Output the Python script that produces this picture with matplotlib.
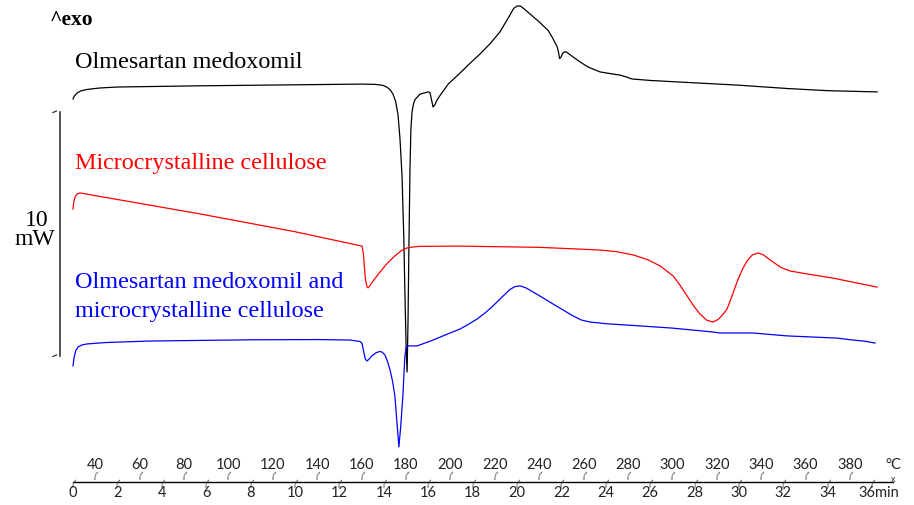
import numpy as np
import matplotlib.pyplot as plt

# DSC thermograms, heat flow (mW) against sample temperature (°C), 10 K/min
olm_T = [30.0, 30.6, 31.8, 33.5, 36.3, 42.0, 49.8, 87.2, 160.0, 166.0, 169.6, 171.5,
         172.8, 174.1, 175.3, 176.4, 177.3, 178.2, 179.0, 179.5, 180.1, 180.5,
         180.9, 181.3, 181.8, 182.2, 182.7, 183.4, 184.1, 186.3, 190.0, 190.8,
         191.5, 192.2, 193.0, 194.0, 195.3, 199.0, 204.3, 208.8, 213.3, 218.0,
         222.3, 226.0, 228.5, 230.0, 231.5, 233.0, 235.9, 240.0, 244.0, 246.0,
         247.1, 248.0, 248.6, 249.2, 249.8, 250.6, 251.6, 252.5, 255.0, 258.4,
         262.0, 267.4, 272.0, 276.4, 279.0, 281.8, 290.0, 302.1, 329.1, 351.6,
         370.0, 392.2]
olm_mW = [16.64, 16.76, 16.88, 16.97, 17.03, 17.09, 17.13, 17.18, 17.25, 17.24, 17.20, 17.12,
          17.02, 16.85, 16.55, 16.00, 15.00, 13.50, 11.00, 8.73, 6.30, 5.45,
          7.50, 10.50, 13.80, 15.40, 16.10, 16.45, 16.62, 16.84, 16.93, 16.90,
          16.60, 16.31, 16.40, 16.60, 16.78, 17.25, 17.70, 18.10, 18.48, 18.92,
          19.39, 19.95, 20.35, 20.45, 20.45, 20.35, 20.12, 19.80, 19.45, 19.15,
          18.95, 18.80, 18.60, 18.30, 18.35, 18.52, 18.58, 18.55, 18.38, 18.16,
          17.95, 17.75, 17.68, 17.62, 17.55, 17.46, 17.40, 17.34, 17.21, 17.07,
          16.98, 16.93]

mcc_T = [30.0, 30.4, 31.0, 31.8, 33.2, 40.0, 87.2, 130.0, 160.2, 160.8, 161.3, 161.8,
         162.4, 162.9, 163.6, 165.5, 168.3, 171.5, 175.0, 178.0, 180.9, 186.0,
         204.3, 240.0, 267.4, 275.0, 282.3, 289.0, 294.4, 298.0, 300.3, 303.5,
         306.6, 309.5, 312.4, 315.5, 318.3, 320.5, 322.5, 324.6, 326.8, 329.1,
         331.5, 333.6, 336.0, 338.6, 341.0, 345.3, 349.0, 353.0, 362.0, 372.3,
         392.2]
mcc_mW = [12.13, 12.45, 12.64, 12.74, 12.79, 12.68, 11.93, 11.20, 10.61, 10.30, 9.70, 9.20,
          8.95, 8.90, 8.97, 9.22, 9.55, 9.90, 10.21, 10.43, 10.55, 10.60,
          10.61, 10.56, 10.45, 10.38, 10.25, 10.05, 9.80, 9.55, 9.39, 9.00,
          8.57, 8.17, 7.83, 7.57, 7.50, 7.60, 7.78, 8.03, 8.55, 9.14,
          9.65, 10.00, 10.25, 10.33, 10.25, 9.96, 9.73, 9.59, 9.45, 9.30,
          8.93]

mix_T = [30.0, 30.5, 31.2, 32.3, 34.0, 36.3, 45.0, 64.7, 109.7, 140.0, 154.8, 159.3,
         160.2, 160.9, 161.6, 162.4, 163.4, 164.6, 166.5, 168.0, 169.2, 170.5,
         171.8, 172.8, 174.0, 175.0, 176.0, 176.8, 177.6, 178.6, 179.1, 179.5,
         180.0, 180.5, 185.0, 188.0, 192.2, 198.0, 204.3, 208.0, 212.0, 216.0,
         219.2, 223.0, 226.8, 229.0, 231.4, 234.0, 237.2, 241.5, 246.2, 251.0,
         255.2, 259.0, 262.9, 270.0, 285.4, 300.0, 318.3, 321.4, 336.3, 351.6,
         374.1, 381.4, 386.0, 391.3]
mix_mW = [5.70, 6.05, 6.32, 6.48, 6.56, 6.60, 6.66, 6.72, 6.77, 6.78, 6.76, 6.70,
          6.62, 6.30, 6.00, 5.90, 5.98, 6.11, 6.24, 6.29, 6.27, 6.15,
          5.85, 5.54, 5.05, 4.47, 3.30, 2.38, 3.20, 4.47, 5.40, 6.11,
          6.42, 6.52, 6.52, 6.62, 6.76, 6.98, 7.21, 7.40, 7.62, 7.90,
          8.16, 8.50, 8.83, 8.95, 8.98, 8.90, 8.73, 8.50, 8.24, 7.98,
          7.75, 7.58, 7.50, 7.43, 7.34, 7.25, 7.09, 7.05, 7.05, 6.93,
          6.84, 6.76, 6.72, 6.64]

temp_labels = list(range(40, 381, 20))
time_labels = list(range(0, 37, 2))

W, H = 914, 506
fig = plt.figure(figsize=(W / 100, H / 100), dpi=100)
ax = fig.add_axes([0, 0, 1, 1])
ax.set_xlim(30 - 73 / 2.22, 30 + (W - 73) / 2.22)
ax.set_ylim(0, H / 24.4)
ax.axis('off')

def fx(px):
    return px / W

def fy(py):
    return 1 - py / H

ax.plot(olm_T, olm_mW, color='black', lw=0.9)
ax.plot(mcc_T, mcc_mW, color='#ff0000', lw=0.9)
ax.plot(mix_T, mix_mW, color='#0000ff', lw=0.9)

serif = ['Liberation Serif', 'DejaVu Serif']
sans = ['Lato', 'DejaVu Sans']

fig.text(fx(50), fy(20), '^exo', family=serif, fontsize=15.5, fontweight='bold',
         va='center', ha='left')
fig.text(fx(75), fy(62), 'Olmesartan medoxomil', family=serif, fontsize=17.4,
         va='center', ha='left', color='black')
fig.text(fx(75), fy(164), 'Microcrystalline cellulose', family=serif, fontsize=17.4,
         va='center', ha='left', color='#ff0000')
fig.text(fx(75), fy(282), 'Olmesartan medoxomil and', family=serif, fontsize=17.4,
         va='center', ha='left', color='#0000ff')
fig.text(fx(75), fy(312), 'microcrystalline cellulose', family=serif, fontsize=17.4,
         va='center', ha='left', color='#0000ff')

# 10 mW scale bar
bar_x = 30 + (60 - 73) / 2.22
bar_top = (H - 113) / 24.4
ax.plot([bar_x, bar_x], [bar_top, bar_top - 10], color='#333333', lw=1.2)
for yb in (bar_top, bar_top - 10):
    ax.plot([bar_x - 3.2, bar_x - 1.6], [yb - 0.02, yb + 0.04], color='#333333', lw=0.9)
fig.text(fx(49), fy(221), '10', family=serif, fontsize=17, va='center', ha='right')
fig.text(fx(55), fy(240), 'mW', family=serif, fontsize=17, va='center', ha='right')

# combined temperature / time axis
y_axis = (H - 483) / 24.4
ax.plot([30, 30 + 10 * 36.95], [y_axis, y_axis], color='black', lw=1.0)
for t in range(0, 37):
    x = 30 + 10 * t
    if t % 2:
        ax.text(x, y_axis + 0.12, '(', family=sans, fontsize=6.5, color='#333333',
                ha='center', va='bottom', rotation=-20)
    else:
        ax.text(x, y_axis - 0.2, '(', family=sans, fontsize=6.5, color='#333333',
                ha='center', va='bottom', rotation=-20)
for T in temp_labels:
    ax.text(T, (H - 465) / 24.4, str(T), family=sans, fontsize=10.5,
            ha='center', va='center', color='#222222')
for t in time_labels:
    lab = '36min' if t == 36 else str(t)
    x = 30 + 10 * t
    ha = 'center'
    if t == 36:
        x -= 6
        ha = 'left'
    ax.text(x, (H - 493) / 24.4, lab, family=sans, fontsize=10.5,
            ha=ha, va='center', color='#222222')
fig.text(fx(893), fy(465), '°C', family=sans, fontsize=10.5, ha='center', va='center',
         color='#222222')
fig.text(fx(893), fy(480), 'x', family=sans, fontsize=6.5, ha='center', va='center',
         color='#333333')

fig.savefig('out.png', dpi=100)
